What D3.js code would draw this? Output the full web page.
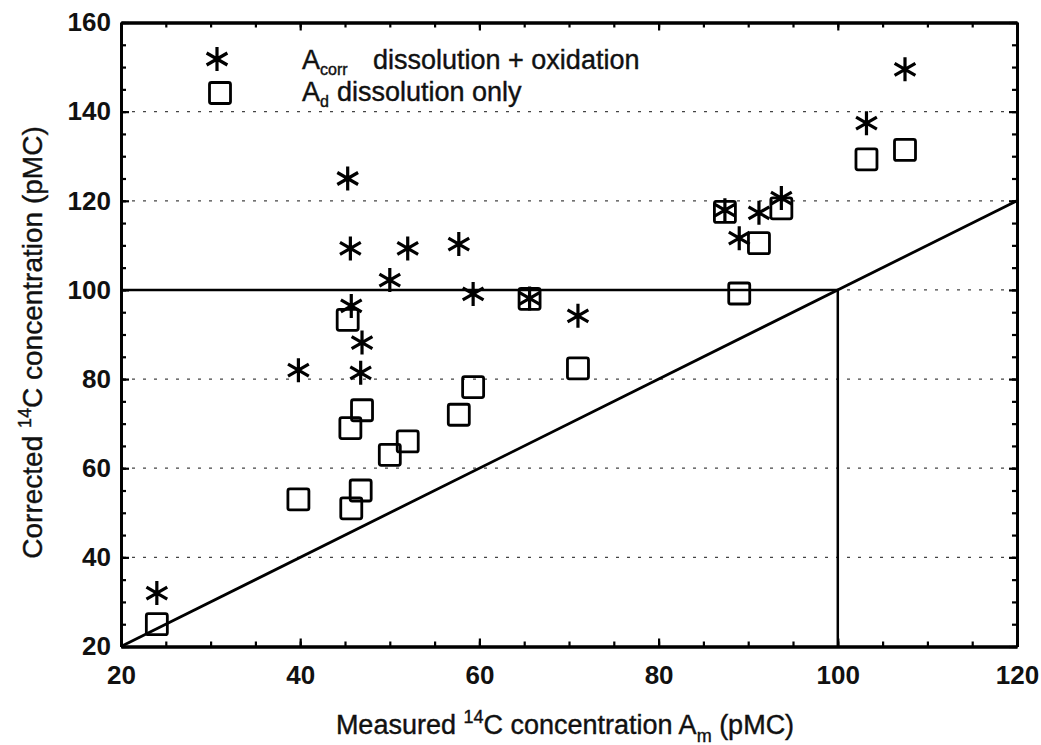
<!DOCTYPE html>
<html>
<head>
<meta charset="utf-8">
<script src="https://cdn.jsdelivr.net/npm/d3@7"></script>
<style>
body{margin:0;background:#fff;}
text{font-family:"Liberation Sans",Arial,sans-serif;fill:#111;}
</style>
</head>
<body>
<div class="chart"></div>
<script>
var width = 1041,
	height = 745;
var margin = {top:22.5, right:24, bottom:98.5, left:121};

// measured activity A_m of each sample (pMC)
var measured = [24, 39.8, 45.3, 45.6, 45.7, 46.9, 46.75, 50, 52, 57.7, 59.3, 65.6, 71, 87.4, 89, 91.2, 93.7, 103.2, 107.5];
// A_corr : dissolution + oxidation (stars)
var corrected = [32, 82, 125, 109.3, 96.4, 88.2, 81.4, 102.2, 109.3, 110.3, 99.1, 98.1, 94.2, 117.9, 111.6, 117.3, 120.6, 137.4, 149.5];
// A_d : dissolution only (squares)
var dissolved = [25, 53, 93.3, 69, 51, 73, 55, 63, 66, 72, 78.2, 98, 82.4, 117.5, 99.2, 110.5, 118.3, 129.3, 131.4];
var xTicks = [20, 40, 60, 80, 100, 120];
var yTicks = [20, 40, 60, 80, 100, 120, 140, 160];
var gridLines = [40, 60, 80, 100, 120, 140];

var svg = d3.select(".chart").append("svg").attr("width", width).attr("height", height);
var x = d3.scaleLinear().domain([20,120]).range([margin.left, width-margin.right]);
var y = d3.scaleLinear().domain([20,160]).range([height-margin.bottom, margin.top]);

// dotted horizontal grid
svg.selectAll("line.grid").data(gridLines).enter().append("line")
	.attr("class","grid")
	.attr("x1", x(20)).attr("x2", x(120))
	.attr("y1", function(d){return y(d);}).attr("y2", function(d){return y(d);})
	.attr("stroke","#444").attr("stroke-width",1.2).attr("stroke-dasharray","3,8");

// 1:1 line and 100 pMC lines
var line = d3.line().x(function(d){return x(d[0]);}).y(function(d){return y(d[1]);});
svg.append("path").attr("d", line([[20,20],[120,120]])).attr("fill","none").attr("stroke","#000").attr("stroke-width",2.8);
svg.append("path").attr("d", line([[20,100],[100,100],[100,20]])).attr("fill","none").attr("stroke","#000").attr("stroke-width",2.5);

// axes, ticks pointing inward
function drawAxis(axis, tr, vals, size, labels){
	var g = svg.append("g").attr("transform", tr).call(axis.tickValues(vals).tickSize(size).tickSizeOuter(0));
	g.select(".domain").attr("stroke-width", 2.8).attr("stroke","#000");
	g.selectAll(".tick line").attr("stroke-width", 2.2).attr("stroke","#000");
	if(!labels) g.selectAll("text").remove();
	return g;
}
var xMinor = d3.range(20,121,5), yMinor = d3.range(20,161,5);
drawAxis(d3.axisBottom(x), "translate(0,"+y(20)+")", xMinor, -5, false);
drawAxis(d3.axisTop(x), "translate(0,"+y(160)+")", xMinor, -5, false);
drawAxis(d3.axisLeft(y), "translate("+x(20)+",0)", yMinor, -5, false);
drawAxis(d3.axisRight(y), "translate("+x(120)+",0)", yMinor, -5, false);
var xb = drawAxis(d3.axisBottom(x), "translate(0,"+y(20)+")", xTicks, -8, true);
drawAxis(d3.axisTop(x), "translate(0,"+y(160)+")", xTicks, -8, false);
var yl = drawAxis(d3.axisLeft(y), "translate("+x(20)+",0)", yTicks, -8, true);
drawAxis(d3.axisRight(y), "translate("+x(120)+",0)", yTicks, -8, false);
xb.selectAll("text").attr("font-size",26).attr("font-weight","bold").attr("font-family","Liberation Sans, Arial").attr("fill","#111").attr("y",19);
yl.selectAll("text").attr("font-size",26).attr("font-weight","bold").attr("font-family","Liberation Sans, Arial").attr("fill","#111").attr("x",-10);

// markers
var starPath = (function(){
	var r = 12, p = "";
	for(var i=0;i<3;i++){
		var a = Math.PI/2 + i*Math.PI/3;
		p += "M"+(r*Math.cos(a))+","+(r*Math.sin(a))+"L"+(-r*Math.cos(a))+","+(-r*Math.sin(a));
	}
	return p;
})();
var sq = 21;
svg.selectAll("rect.pt").data(dissolved).enter().append("rect")
	.attr("class","pt")
	.attr("x", function(d,i){return x(measured[i])-sq/2;})
	.attr("y", function(d){return y(d)-sq/2;})
	.attr("width", sq).attr("height", sq).attr("rx",2)
	.attr("fill","none").attr("stroke","#000").attr("stroke-width",2.8);
svg.selectAll("path.star").data(corrected).enter().append("path")
	.attr("class","star")
	.attr("d", starPath)
	.attr("transform", function(d,i){return "translate("+x(measured[i])+","+y(d)+")";})
	.attr("stroke","#000").attr("stroke-width",3.2).attr("fill","none");

// legend
svg.append("path").attr("d", starPath).attr("transform","translate(217,59)").attr("stroke","#000").attr("stroke-width",3.2);
svg.append("rect").attr("x",220-sq/2).attr("y",93-sq/2).attr("width",sq).attr("height",sq).attr("rx",2)
	.attr("fill","none").attr("stroke","#000").attr("stroke-width",2.8);
var lg = svg.append("g").attr("stroke","#111").attr("stroke-width",0.4);
var l1 = lg.append("text").attr("x",302).attr("y",69).attr("font-size",27);
l1.append("tspan").text("A");
l1.append("tspan").attr("font-size",16).attr("dy",6).text("corr");
l1.append("tspan").attr("dy",-6).attr("x",373).text("dissolution + oxidation");
var l2 = lg.append("text").attr("x",302).attr("y",101).attr("font-size",27);
l2.append("tspan").text("A");
l2.append("tspan").attr("font-size",16).attr("dy",6).text("d");
l2.append("tspan").attr("dy",-6).attr("x",337).text("dissolution only");

// axis titles
var xt = svg.append("text").attr("x", (x(20)+x(120))/2 - 4).attr("y", 734).attr("text-anchor","middle").attr("font-size",27)
	.attr("stroke","#111").attr("stroke-width",0.4);
xt.append("tspan").text("Measured ");
xt.append("tspan").attr("font-size",18).attr("dy",-11).text("14");
xt.append("tspan").attr("dy",11).text("C concentration A");
xt.append("tspan").attr("font-size",18).attr("dy",8).text("m");
xt.append("tspan").attr("dy",-8).text(" (pMC)");
var yt = svg.append("text").attr("transform","translate(42,"+((y(20)+y(160))/2+8)+") rotate(-90)").attr("text-anchor","middle").attr("font-size",28)
	.attr("stroke","#111").attr("stroke-width",0.4);
yt.append("tspan").text("Corrected ");
yt.append("tspan").attr("font-size",18).attr("dy",-11).text("14");
yt.append("tspan").attr("dy",11).text("C concentration (pMC)");
</script>
</body>
</html>
